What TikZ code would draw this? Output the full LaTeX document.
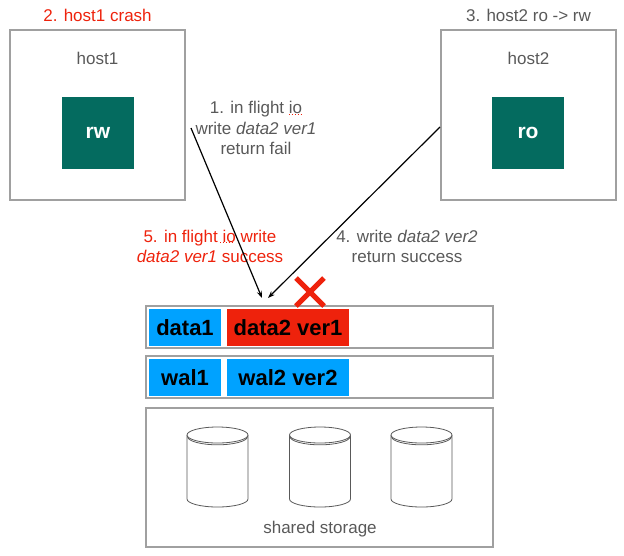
\documentclass[tikz,border=0pt]{standalone}
\usepackage{fontspec}
\setmainfont{Liberation Sans}
\usetikzlibrary{arrows.meta,calc}
\definecolor{teal1}{HTML}{046B5F}
\definecolor{blue1}{HTML}{00A2FF}
\definecolor{red1}{HTML}{EE220C}
\definecolor{txtgrey}{HTML}{595959}
\definecolor{boxgrey}{HTML}{A0A0A0}
\tikzset{
  hostbox/.style={draw=boxgrey, line width=1.3pt, minimum width=175pt, minimum height=170pt, inner sep=0pt},
  rolebox/.style={fill=teal1, minimum width=72pt, minimum height=72pt, inner sep=0pt, text=white, font=\fontsize{21}{24}\selectfont\bfseries},
  rowbox/.style={draw=boxgrey, line width=1.3pt, minimum width=347pt, minimum height=42pt, inner sep=0pt},
  cell/.style={minimum height=37pt, inner sep=0pt, text=black, font=\fontsize{22}{25}\selectfont\bfseries},
  lbl/.style={text=txtgrey, align=center, inner sep=0pt, font=\fontsize{17}{20.5}\selectfont},
  redlbl/.style={text=red1, align=center, inner sep=0pt, font=\fontsize{17}{20.5}\selectfont},
  conn/.style={draw=black, line width=1.2pt, -{Stealth[length=7pt,width=5pt]}},
  spell/.style={draw=red1, line width=0.9pt, dotted},
  cyl/.style={draw=txtgrey, line width=0.8pt}
}
\begin{document}
\begin{tikzpicture}[x=1pt,y=-1pt]
\useasboundingbox (0,0) rectangle (624,555);
% hosts
\node[hostbox] (host1) at (97.5,115) {};
\node[hostbox] (host2) at (528.5,115) {};
\node[lbl] (h1t) at (97.5,58) {host1};
\node[lbl] (h2t) at (528.5,58) {host2};
\node[rolebox] (rw) at (98,133) {rw};
\node[rolebox] (ro) at (528,133) {ro};
\node[redlbl] (l2) at (97.5,15) {2. host1 crash};
\node[lbl] (l3) at (528.5,15) {3. host2 ro -> rw};
% labels
\node[lbl] (l1) at (256,128) {1. in flight io\\write \textit{data2 ver1}\\return fail};
\draw[spell] (289,114.5) -- (303,114.5);
\node[redlbl] (l5) at (210,246.5) {5. in flight io write\\\textit{data2 ver1} success};
\draw[spell] (220,242.5) -- (233,242.5);
\node[lbl] (l4) at (407,246.5) {4. write \textit{data2 ver2}\\return success};
% rows
\node[rowbox] (datarow) at (319.5,327) {};
\node[rowbox] (walrow) at (319.5,377) {};
\node[cell, fill=blue1, minimum width=72pt] (d1) at (185,327.5) {data1};
\node[cell, fill=red1, minimum width=122pt] (d2) at (288,327.5) {data2 ver1};
\node[cell, fill=blue1, minimum width=72pt] (w1) at (185,377.5) {wal1};
\node[cell, fill=blue1, minimum width=122pt] (w2) at (288,377.5) {wal2 ver2};
% red cross
\coordinate (xc) at (310,292);
\draw[red1, line width=5pt] ($(xc)+(-14,-14)$) -- ($(xc)+(14,14)$);
\draw[red1, line width=5pt] ($(xc)+(14,-14)$) -- ($(xc)+(-14,14)$);
% connectors
\coordinate (a1s) at (191,128);
\coordinate (a1e) at (262,298);
\coordinate (a4s) at (440,127);
\coordinate (a4e) at (268,298);
\draw[conn] (a1s) -- (a1e);
\draw[conn] (a4s) -- (a4e);
% storage
\node[draw=boxgrey, line width=1.3pt, minimum width=347pt, minimum height=139pt, inner sep=0pt] (storage) at (319.5,477.5) {};
\node[lbl] (st) at (320,529) {shared storage};
\foreach \cx in {217.5,320,421.5}{
  \draw[cyl] (\cx-30.5,435) -- (\cx-30.5,499) arc[start angle=180, end angle=0, x radius=30.5, y radius=8] -- (\cx+30.5,435);
  \draw[cyl, fill=white] (\cx,435) ellipse[x radius=30.5, y radius=8];
  \draw[cyl] (\cx-30,436.5) arc[start angle=180, end angle=0, x radius=30, y radius=8.3];
}
\end{tikzpicture}
\end{document}
